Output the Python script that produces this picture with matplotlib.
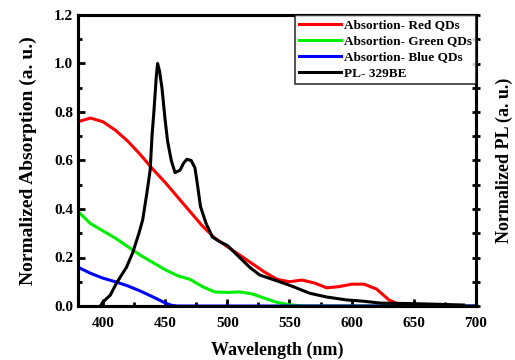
import matplotlib.pyplot as plt
import numpy as np
from matplotlib.ticker import MultipleLocator, NullFormatter

plt.rcParams['font.family'] = ['Liberation Serif', 'DejaVu Serif']
plt.rcParams['font.weight'] = 'bold'

# Поглинання червоних КТ
red_wl = [380, 390, 400, 410, 420, 430, 440, 450, 460, 470, 480, 490, 500, 510,
          520, 530, 540, 550, 560, 570, 580, 590, 600, 610, 620, 630, 640, 650, 700]
red_abs = [0.76, 0.775, 0.76, 0.725, 0.68, 0.625, 0.565, 0.51, 0.45, 0.39, 0.33, 0.28,
           0.245, 0.21, 0.175, 0.14, 0.11, 0.10, 0.107, 0.095, 0.075, 0.08, 0.09,
           0.09, 0.07, 0.025, 0.003, 0.0, 0.0]

# Поглинання зелених КТ
green_wl = [380, 390, 400, 410, 420, 430, 440, 450, 460, 470, 480, 490, 500, 510,
            520, 530, 540, 550, 560, 700]
green_abs = [0.39, 0.34, 0.31, 0.28, 0.245, 0.21, 0.18, 0.15, 0.125, 0.11, 0.08,
             0.058, 0.056, 0.058, 0.05, 0.032, 0.015, 0.005, 0.0, 0.0]

# Поглинання синіх КТ
blue_wl = [380, 390, 400, 410, 420, 430, 440, 450, 455, 460, 700]
blue_abs = [0.16, 0.135, 0.115, 0.1, 0.083, 0.062, 0.038, 0.013, 0.003, 0.0, 0.0]

# ФЛ 329BE
pl_wl = [398, 400, 406, 411, 419, 424, 429, 432, 435.5, 438, 439.5, 441, 443, 444,
         445.5, 447.5, 450, 452, 455, 458, 462, 465, 467.5, 471, 474, 475.5, 478.5,
         483, 488, 494, 500, 510, 518, 526, 542, 553, 566, 580, 596, 609, 623, 647,
         670, 690]
pl_int = [0.0, 0.016, 0.045, 0.095, 0.16, 0.22, 0.3, 0.355, 0.47, 0.56, 0.7, 0.8,
          0.95, 1.0, 0.97, 0.9, 0.77, 0.68, 0.6, 0.55, 0.56, 0.59, 0.605, 0.6, 0.57,
          0.52, 0.41, 0.34, 0.285, 0.265, 0.25, 0.2, 0.16, 0.128, 0.1, 0.08, 0.053,
          0.037, 0.025, 0.02, 0.012, 0.01, 0.007, 0.004]

fig = plt.figure(figsize=(5.15, 3.6), dpi=100)
ax = fig.add_axes([78 / 515, 1 - 306 / 360, (476 - 78) / 515, (306 - 15) / 360])

ax.plot(red_wl, red_abs, color='#ff0000', lw=2.2, label='Absortion- Red QDs')
ax.plot(green_wl, green_abs, color='#00ee00', lw=2.2, label='Absortion- Green QDs')
ax.plot(blue_wl, blue_abs, color='#0000ff', lw=2.2, label='Absortion- Blue QDs')
ax.plot(pl_wl, pl_int, color='black', lw=2.2, label='PL- 329BE')

ax.set_xlim(380, 700)
ax.set_ylim(0, 1.2)
ax.xaxis.set_major_locator(MultipleLocator(50))
ax.xaxis.set_minor_locator(MultipleLocator(25))
ax.yaxis.set_major_locator(MultipleLocator(0.2))
ax.yaxis.set_minor_locator(MultipleLocator(0.1))
ax.tick_params(which='both', direction='in', top=False, right=False, labelsize=11, width=2)
ax.tick_params(which='major', length=5)
ax.tick_params(which='minor', length=3)
ax.tick_params(axis='x', pad=8)
for s in ax.spines.values():
    s.set_linewidth(2.2)

ax.set_xlabel('Wavelength (nm)', fontsize=13, fontweight='bold', labelpad=8)
ax.set_ylabel('Normalized Absorption (a. u.)', fontsize=14, fontweight='bold', labelpad=12)

ax2 = ax.twinx()
ax2.set_ylim(0, 1.2)
ax2.yaxis.set_major_locator(MultipleLocator(0.1))
ax2.yaxis.set_major_formatter(NullFormatter())
ax2.tick_params(direction='inout', length=6, width=2)
ax2.set_ylabel('Normalized PL (a. u.)', fontsize=13, fontweight='bold', labelpad=8)
for s in ax2.spines.values():
    s.set_linewidth(2.2)

leg = ax2.legend(*ax.get_legend_handles_labels(), loc='upper right', fontsize=9.5,
                 frameon=True, fancybox=False, borderpad=0.3, labelspacing=0.3,
                 handlelength=3.2, handletextpad=0.2, borderaxespad=0)
leg.get_frame().set_edgecolor('black')
leg.get_frame().set_linewidth(1.2)
leg.set_zorder(5)

fig.savefig('out.png', dpi=100)
